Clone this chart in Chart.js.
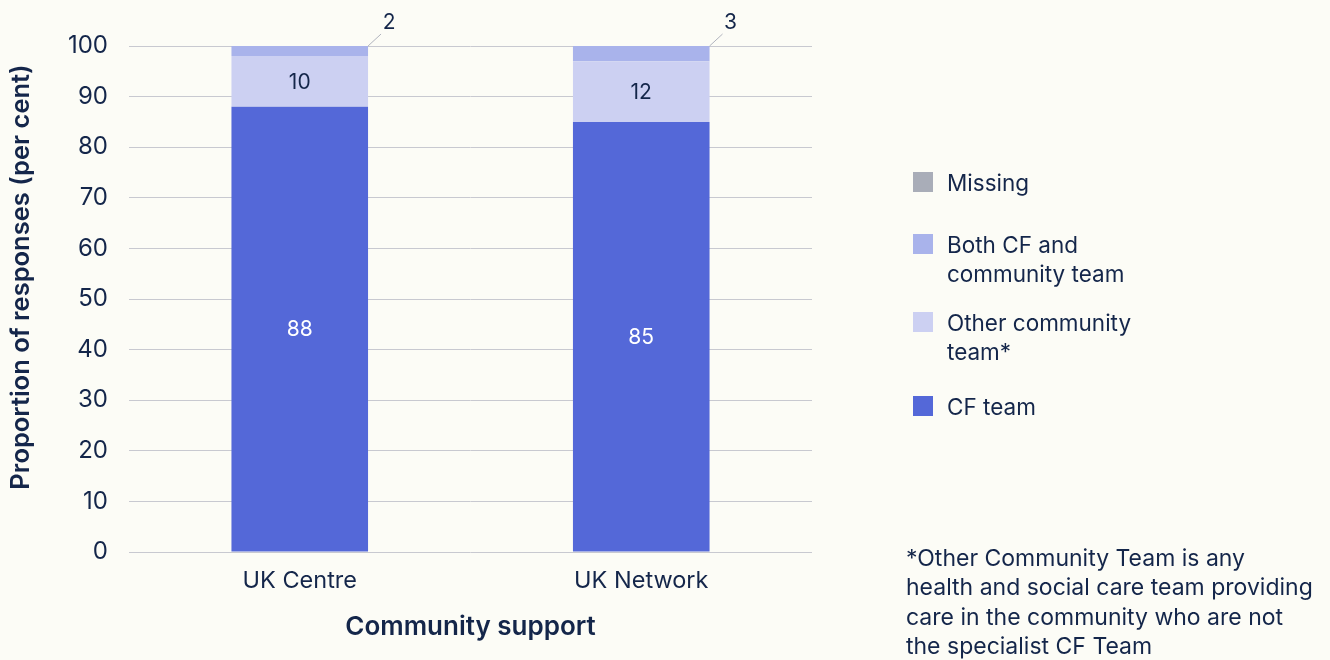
<!DOCTYPE html>
<html>
<head>
<meta charset="utf-8">
<script src="https://cdn.jsdelivr.net/npm/chart.js@4.4.1/dist/chart.umd.min.js"></script>
<style>
  html, body { margin: 0; padding: 0; background: #fcfcf6; }
  #wrap { width: 1330px; height: 660px; position: relative; }
</style>
</head>
<body>
<div id="wrap"><canvas id="chart" width="1330" height="660"></canvas></div>
<script>
  // Community support by place of care (per cent of responses)
  const categories = ['UK Centre', 'UK Network'];
  const cfTeam = [88, 85];
  const otherCommunity = [10, 12];
  const bothTeams = [2, 3];
  const missing = [0, 0];
  const yTicks = [0, 10, 20, 30, 40, 50, 60, 70, 80, 90, 100];

  const legendItems = [
    { label: ['Missing'], color: '#a9adb8' },
    { label: ['Both CF and', 'community team'], color: '#a9b3eb' },
    { label: ['Other community', 'team*'], color: '#ccd0f2' },
    { label: ['CF team'], color: '#5468d8' }
  ];
  const footnote = [
    '*Other Community Team is any',
    'health and social care team providing',
    'care in the community who are not',
    'the specialist CF Team'
  ];
  const yTitle = 'Proportion of responses (per cent)';

  const FONT = 'Inter';
  const INK = '#14264a';

  // Value labels: centred in the segment, or outside with a short leader line for thin ones
  const segmentLabels = {
    id: 'segmentLabels',
    afterDatasetsDraw(chart) {
      const ctx = chart.ctx;
      ctx.save();
      ctx.textAlign = 'center';
      ctx.textBaseline = 'middle';
      chart.data.datasets.forEach((ds, di) => {
        const meta = chart.getDatasetMeta(di);
        meta.data.forEach((bar, i) => {
          const v = ds.data[i];
          if (!v) return;
          const h = Math.abs(bar.base - bar.y);
          if (h > 22) {
            ctx.font = '21px ' + FONT;
            ctx.fillStyle = ds.labelColor;
            ctx.fillText(String(v), bar.x, (bar.y + bar.base) / 2 + 1);
          } else {
            const x0 = bar.x + bar.width / 2;
            const y0 = bar.y;
            ctx.strokeStyle = '#b0b3bd';
            ctx.lineWidth = 1;
            ctx.beginPath();
            ctx.moveTo(x0, y0);
            ctx.lineTo(x0 + 13, y0 - 12);
            ctx.stroke();
            ctx.font = '21px ' + FONT;
            ctx.fillStyle = INK;
            ctx.fillText(String(v), x0 + 21, y0 - 23);
          }
        });
      });
      ctx.restore();
    }
  };

  // Y title, legend and footnote
  const sidePanel = {
    id: 'sidePanel',
    afterDraw(chart) {
      const ctx = chart.ctx;
      ctx.save();
      ctx.fillStyle = INK;
      ctx.textBaseline = 'middle';

      ctx.save();
      ctx.translate(21, 277);
      ctx.rotate(-Math.PI / 2);
      ctx.textAlign = 'center';
      ctx.font = '600 25.5px ' + FONT;
      ctx.fillText(yTitle, 0, 0);
      ctx.restore();

      ctx.font = '22.5px ' + FONT;
      ctx.textAlign = 'left';
      const tops = [183, 245, 323, 407];
      legendItems.forEach((item, k) => {
        const y = tops[k];
        ctx.fillStyle = item.color;
        ctx.fillRect(913, y - 11, 20, 20);
        ctx.fillStyle = INK;
        item.label.forEach((line, j) => ctx.fillText(line, 947, y + 1 + j * 29.5));
      });
      ctx.font = '23px ' + FONT;
      footnote.forEach((line, j) => ctx.fillText(line, 906, 559 + j * 29.5));
      ctx.restore();
    }
  };

  new Chart(document.getElementById('chart'), {
    type: 'bar',
    data: {
      labels: categories,
      datasets: [
        { label: 'CF team', data: cfTeam, backgroundColor: '#5468d8', labelColor: '#ffffff' },
        { label: 'Other community team*', data: otherCommunity, backgroundColor: '#ccd0f2', labelColor: INK },
        { label: 'Both CF and community team', data: bothTeams, backgroundColor: '#a9b3eb', labelColor: INK },
        { label: 'Missing', data: missing, backgroundColor: '#a9adb8', labelColor: INK }
      ]
    },
    options: {
      responsive: false,
      animation: false,
      layout: { padding: { top: 46, right: 518, left: 0, bottom: 0 } },
      datasets: { bar: { categoryPercentage: 1, barPercentage: 0.4 } },
      plugins: { legend: { display: false }, tooltip: { enabled: false } },
      scales: {
        x: {
          stacked: true,
          afterFit(scale) { scale.height = 108; },
          grid: { display: false, drawTicks: false },
          border: { display: false },
          ticks: { color: INK, font: { family: FONT, size: 23.5 }, padding: 15 },
          title: { display: true, text: 'Community support', color: INK,
                   font: { family: FONT, size: 26, weight: '600' }, padding: { bottom: 17 } }
        },
        y: {
          stacked: true,
          min: 0, max: 100,
          afterFit(scale) { scale.width = 129; },
          afterBuildTicks(scale) { scale.ticks = yTicks.map(v => ({ value: v })); },
          grid: { color: '#c8c9d0', lineWidth: 1, drawTicks: false },
          border: { display: false },
          ticks: { color: INK, font: { family: FONT, size: 24 }, padding: 21 },
          title: { display: false }
        }
      }
    },
    plugins: [segmentLabels, sidePanel]
  });
</script>
</body>
</html>
